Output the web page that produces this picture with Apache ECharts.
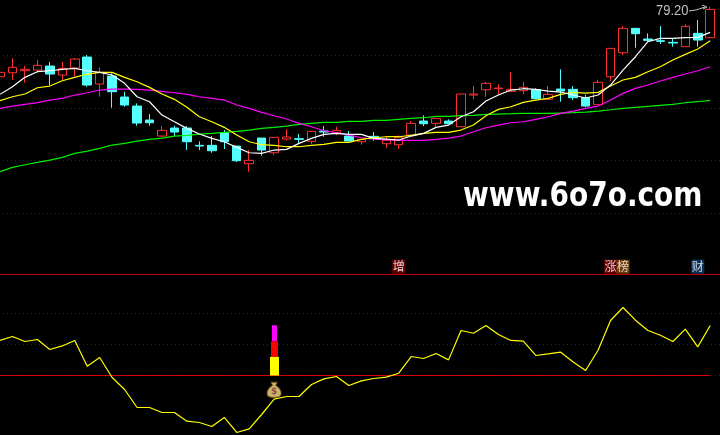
<!DOCTYPE html>
<html><head><meta charset="utf-8">
<style>html,body{margin:0;padding:0;background:#000}#c{width:720px;height:435px}</style>
<script src="https://cdn.jsdelivr.net/npm/echarts@6/dist/echarts.min.js"></script>
</head><body><div id="c"></div>
<script>
// [open, close, low, high]
const candles = [
[65.93,66.76,64.03,66.76],[66.69,67.71,65.30,69.42],[67.07,67.33,64.79,67.96],[67.20,68.09,66.76,69.10],[67.96,66.44,64.35,68.72],
[66.25,67.52,65.30,68.72],[67.58,69.29,65.93,69.48],[69.67,64.35,64.03,70.05],[64.54,66.76,62.13,67.71],[66.06,63.08,60.04,66.57],
[62.07,60.55,60.23,63.08],[60.36,57.13,56.62,60.87],[57.70,57.19,56.62,58.84],[54.66,55.74,54.41,56.56],[56.18,55.42,54.53,56.62],
[56.18,53.58,52.00,56.56],[52.89,52.76,52.00,53.65],[52.89,51.87,51.49,54.66],[55.29,53.58,52.19,55.80],[52.76,49.97,49.72,52.76],
[49.40,50.04,47.88,52.00],[54.28,52.00,50.92,54.28],[51.49,54.41,51.05,54.41],[54.09,54.47,53.77,55.93],[54.15,54.03,53.14,55.04],
[53.65,55.55,53.14,55.55],[55.61,55.42,54.53,56.56],[55.36,55.74,54.85,56.43],[54.66,53.71,53.71,55.61],[53.58,54.03,53.01,54.03],
[54.60,54.34,53.77,55.42],[53.20,53.84,52.38,54.53],[53.01,54.41,52.19,54.79],[54.85,57.07,54.85,57.51],[57.51,57.00,56.56,58.59],
[57.07,58.02,56.31,58.02],[57.51,57.00,57.00,57.83],[56.43,62.64,56.43,62.64],[62.45,62.64,61.69,64.16],[63.46,64.67,62.13,64.92],
[63.65,63.78,62.64,64.54],[63.15,63.53,63.15,66.82],[63.27,63.91,62.64,64.92],[63.46,61.75,61.63,63.72],[61.63,62.58,61.63,64.16],
[63.59,63.21,61.18,67.33],[63.53,61.94,61.50,64.16],[61.94,60.36,60.11,62.51],[60.61,64.86,60.61,65.30],[65.93,71.32,65.11,71.32],
[70.49,75.12,70.05,75.56],[75.12,74.10,71.44,75.12],[73.09,72.84,72.58,74.17],[72.77,72.65,72.14,75.56],[72.46,72.33,71.63,73.22],
[71.63,75.50,71.63,75.88],[74.17,72.90,71.63,76.70],[73.34,78.73,73.34,79.20]];
const whiteLine = [62.58,64.03,65.81,66.88,67.07,67.33,67.52,67.07,66.76,66.25,64.67,62.13,61.18,58.65,57.38,56.12,55.04,54.22,53.58,52.51,
51.49,51.37,52.00,52.13,53.27,54.22,54.98,55.17,54.98,54.98,54.22,54.09,53.90,54.66,55.17,56.31,56.75,58.33,59.28,
61.31,62.45,63.40,63.65,63.53,63.21,63.02,62.45,61.88,62.45,64.35,67.20,69.73,72.58,73.22,73.22,73.34,73.41,74.36];
const yellowLine = [61.37,62.13,62.64,63.84,64.16,65.17,65.81,66.44,66.76,66.76,65.81,64.98,63.91,62.64,61.63,60.11,58.33,57.38,56.31,54.85,
53.58,53.01,52.89,52.63,52.63,52.89,53.08,53.46,53.46,54.03,54.34,54.53,54.53,54.79,55.17,55.36,55.36,55.80,56.75,
58.52,59.73,60.23,61.06,61.50,61.82,62.58,62.96,62.83,62.96,64.16,65.30,65.81,66.88,67.83,69.10,70.18,71.19,72.77];
const magentaLine = [59.92,60.36,60.68,61.00,61.50,61.82,62.45,62.89,63.40,63.59,63.59,63.53,63.40,63.15,62.89,62.58,62.13,61.82,61.50,60.55,
59.92,59.16,58.52,57.89,57.07,56.43,55.67,55.29,54.85,54.34,54.09,53.96,53.84,53.84,53.84,54.03,54.28,54.66,55.48,
56.24,56.75,57.19,57.38,57.83,58.33,58.97,59.41,59.92,60.36,61.50,62.77,63.72,64.35,65.11,65.81,66.44,67.07,67.83];
const greenLine = [47.88,48.71,49.21,49.66,50.10,50.61,51.37,51.81,52.32,52.95,53.27,53.71,54.03,54.28,54.66,54.79,55.04,55.17,55.36,55.55,
55.80,56.12,56.31,56.56,56.88,57.07,57.26,57.26,57.45,57.45,57.64,57.64,57.83,58.02,58.14,58.40,58.40,58.52,58.59,
58.78,58.84,58.90,58.97,58.97,58.97,59.03,59.09,59.22,59.41,59.66,59.92,60.11,60.30,60.49,60.68,60.99,61.18,61.44];
const indicator = [56.5,62.9,54.8,58.1,41.9,47.7,56.5,15,29,-3.2,-22.6,-51.6,-51.6,-59.7,-59.7,-73.7,-75.8,-82.3,-67.7,-91.9,-86.1,-62.9,-38.2,-33.9,-33.9,-14.5,-5.5,-1.6,-16.1,-8.7,
-4.8,-2.7,3.7,30.6,27.4,35.5,25.2,72.6,68.2,80.6,66.1,56.5,55.3,32.3,34.8,37.6,21.9,8.1,40.8,88.7,109.7,89.2,72.6,65,54.8,74.7,46.1,80.6];
// one empty trailing slot keeps the rules running to the right edge
const categories = candles.map((_, i) => 'D' + (i + 1)).concat(['']);
const zeroLevel = candles.map(() => 0);
// signal column on one day: [day index, from, to, colour key]
const signalBars = [[22,55,81,'m'],[22,30,55,'r'],[22,0,30,'y']];
const signalStyle = {m:['#ff00ff',5], r:['#ff0000',7], y:['#ffff00',9]};
const tagDays = [32,49,50,56];
const tagTexts = ['增','涨','榜','财'];
const tagColors = ['#800000','#800000','#8a4a10','#0f3f70'];
const tagLevel = 175.5;
const bagDay = 22, bagLevel = -23.2;
const highLabel = '79.20';
const watermark = 'www.6o7o.com';

const chart = echarts.init(document.getElementById('c'), null, {renderer:'canvas'});
const dotted = {show:true, lineStyle:{color:'#8a0000', width:1, type:[1,3], dashOffset:-1.2}};
const line = (name, data, color) => ({name, type:'line', data, xAxisIndex:0, yAxisIndex:0, symbol:'none', clip:false, z:3,
  lineStyle:{color, width:1.2}, silent:true});
chart.setOption({
  animation:false, backgroundColor:'#000',
  grid:[{left:-6.23, width:735.14, top:55.3, height:157.9, outerBoundsMode:'none', containLabel:false},
        {left:-6.23, width:735.14, top:313.5, height:62, outerBoundsMode:'none', containLabel:false}],
  xAxis:[
    {type:'category', data:categories, gridIndex:0, show:false},
    {type:'category', data:categories, gridIndex:1, position:'top', offset:39,
     axisLine:{show:true, onZero:false, lineStyle:{color:'#c00000', width:1}}, axisTick:{show:false}, axisLabel:{show:false}}
  ],
  yAxis:[
    {type:'value', gridIndex:0, min:40, max:70, interval:10, axisLine:{show:false}, axisTick:{show:false}, axisLabel:{show:false}, splitLine:dotted},
    {type:'value', gridIndex:1, min:0, max:100, interval:50, axisLine:{show:false}, axisTick:{show:false}, axisLabel:{show:false}, splitLine:dotted}
  ],
  series:[
    {type:'candlestick', data:candles, xAxisIndex:0, yAxisIndex:0, barWidth:9, clip:false, z:2, silent:true,
     itemStyle:{color:'#000', color0:'#54ffff', borderColor:'#ff3232', borderColor0:'#54ffff', borderWidth:1}},
    line('green', greenLine, '#00f000'),
    line('magenta', magentaLine, '#ff00ff'),
    line('yellow', yellowLine, '#ffff00'),
    line('white', whiteLine, '#ffffff'),
    {type:'line', data:zeroLevel, xAxisIndex:1, yAxisIndex:1, symbol:'none', clip:false, z:2, silent:true,
     lineStyle:{color:'#e00000', width:1}},
    {type:'line', data:indicator, xAxisIndex:1, yAxisIndex:1, symbol:'none', clip:false, z:3, silent:true,
     lineStyle:{color:'#ffff00', width:1.2}},
    {type:'custom', xAxisIndex:1, yAxisIndex:1, clip:false, z:4, silent:true, data:signalBars,
     encode:{x:0,y:[1,2]},
     renderItem:(p, api) => {
       const st = signalStyle[signalBars[p.dataIndex][3]];
       const a = api.coord([api.value(0), api.value(1)]), b = api.coord([api.value(0), api.value(2)]);
       return {type:'rect', shape:{x:Math.round(a[0]-st[1]/2), y:b[1], width:st[1], height:a[1]-b[1]}, style:{fill:st[0]}};
     }},
    {type:'scatter', xAxisIndex:1, yAxisIndex:1, clip:false, z:5, silent:true, symbolSize:0,
     data:tagDays.map((d,i) => ({value:[d, tagLevel],
       label:{show:true, position:'inside', formatter:tagTexts[i], color:'#fff', fontFamily:'Noto Sans CJK SC', fontSize:12,
         lineHeight:14, width:13, height:14, align:'center', verticalAlign:'middle', backgroundColor:tagColors[i]}}))},
    {type:'scatter', xAxisIndex:1, yAxisIndex:1, clip:false, z:5, silent:true,
     data:[[bagDay, bagLevel]], symbolSize:[14,15],
     symbol:'path://M4 0h6l-1.5 3c3.5 2 5.5 5 5.5 8 0 3-3 4-7 4s-7-1-7-4c0-3 2-6 5.5-8z',
     itemStyle:{color:'#f8e08a', borderColor:'#8a5a18', borderWidth:1},
     label:{show:true, position:'inside', formatter:'$', color:'#8a3030', fontSize:9, fontWeight:'bold', fontFamily:'DejaVu Sans', offset:[0,2]}}
  ],
  graphic:[
    {type:'text', x:463, y:214, z:10, silent:true, scaleY:1.2,
     style:{text:watermark, fill:'#fff', font:'bold 28px "DejaVu Sans"', verticalAlign:'bottom'}},
    {type:'text', x:656, y:11, z:10, silent:true, scaleY:1.15,
     style:{text:highLabel, fill:'#c0c0c0', font:'13px "Liberation Sans"', verticalAlign:'middle'}},
    {type:'polyline', z:10, silent:true, shape:{points:[[689,11],[696,10],[705,7]]}, style:{stroke:'#c0c0c0', lineWidth:1, fill:null}},
    {type:'polyline', z:10, silent:true, shape:{points:[[702,5],[707,7],[703,9]]}, style:{stroke:'#c0c0c0', lineWidth:1, fill:null}}
  ]
});
</script></body></html>
